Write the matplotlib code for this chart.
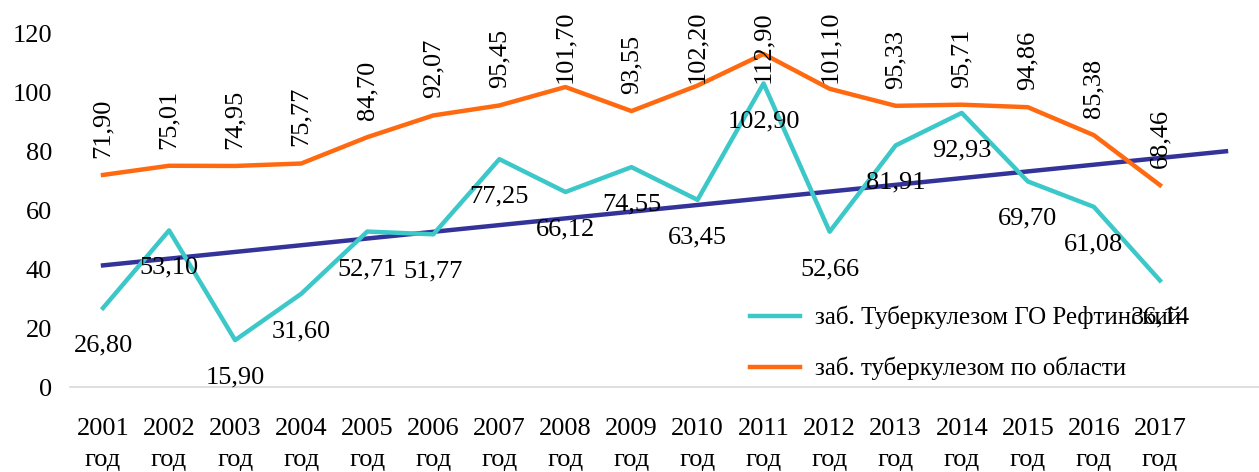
import numpy as np
import matplotlib.pyplot as plt

plt.rcParams['font.family'] = ['Liberation Serif', 'DejaVu Serif']

years = [f"{y}\nгод" for y in range(2001, 2018)]
reft = [26.80, 53.10, 15.90, 31.60, 52.71, 51.77, 77.25, 66.12, 74.55, 63.45,
        102.90, 52.66, 81.91, 92.93, 69.70, 61.08, 36.14]
oblast = [71.90, 75.01, 74.95, 75.77, 84.70, 92.07, 95.45, 101.70, 93.55, 102.20,
          112.90, 101.10, 95.33, 95.71, 94.86, 85.38, 68.46]

FS = 19

def fmt(v):
    return f"{v:.2f}".replace(".", ",")

def main():
    x = np.arange(1, len(years) + 1)

    fig = plt.figure(figsize=(12.59, 4.72), dpi=100)
    ax = fig.add_axes([0.0556, 0.18, 0.9444, 0.75])

    # linear trend of the Reftinsky series, extended one period forward
    k, b = np.polyfit(x, reft, 1)
    xt = np.array([1, len(years) + 1])

    l1, = ax.plot(x, reft, color="#3CC8C8", lw=3.2,
                  label="заб. Туберкулезом ГО Рефтинский", zorder=3)
    l2, = ax.plot(x, oblast, color="#FF6A10", lw=3.2,
                  label="заб. туберкулезом по области", zorder=3)
    ax.plot(xt, k * xt + b, color="#333399", lw=3.2, zorder=2)

    for xi, v in zip(x, reft):
        ax.annotate(fmt(v), (xi, v), xytext=(0, -27), textcoords="offset points",
                    ha="center", va="center", fontsize=FS, zorder=5)
    # labels that would run off the top are pushed down (as Excel does)
    top_cap = 103.1
    for xi, v in zip(x, oblast):
        yb = min(v + 5.8, top_cap)
        ax.text(xi, yb, fmt(v), ha="center", va="bottom", rotation=90,
                fontsize=FS, zorder=5, clip_on=False)

    ax.set_xlim(0.5, len(years) + 1.5)
    ax.set_ylim(0, 120)
    ax.set_yticks(range(0, 121, 20))
    ax.set_xticks(x)
    ax.set_xticklabels(years, fontsize=FS, linespacing=1.55)
    ax.tick_params(axis="y", labelsize=FS, length=0, pad=13)
    ax.tick_params(axis="x", length=0, pad=22)
    for s in ["top", "right", "left"]:
        ax.spines[s].set_visible(False)
    ax.spines["bottom"].set_color("#d9d9d9")
    ax.spines["bottom"].set_linewidth(1.2)

    ax.legend(handles=[l1, l2], loc="lower left", bbox_to_anchor=(0.553, -0.045),
              frameon=False, fontsize=18, handlelength=2.0, labelspacing=1.1,
              handletextpad=0.6)

    fig.savefig("out.png", dpi=100)

if __name__ == "__main__":
    main()
